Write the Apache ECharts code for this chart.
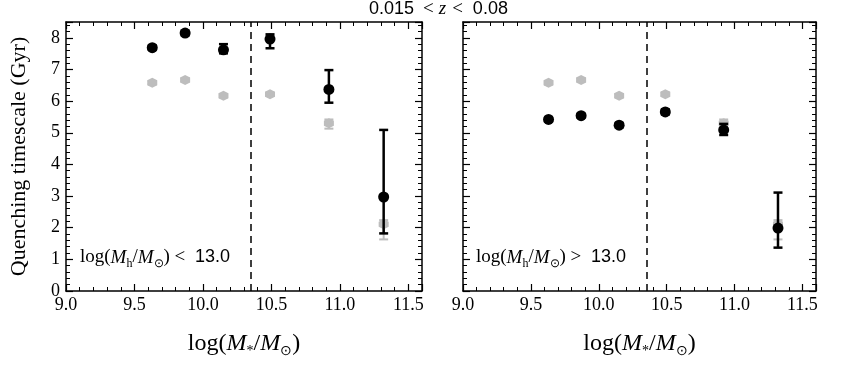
<!DOCTYPE html>
<html>
<head>
<meta charset="utf-8">
<script src="https://cdn.jsdelivr.net/npm/echarts@6/dist/echarts.min.js"></script>
<style>
  html, body { margin: 0; background: #fff; }
  #chart { width: 845px; height: 370px; }
</style>
</head>
<body>
<div id="chart"></div>
<script>
// stellar mass bins, log(M*/Msun)
const massBins = [9.63, 9.87, 10.15, 10.49, 10.92, 11.32]

// whole sample (grey), same in both panels
const allTau = [6.58, 6.67, 6.17, 6.22, 5.30, 2.11]
const allLo = [6.53, 6.62, 6.12, 6.17, 5.13, 1.63]
const allHi = [6.63, 6.72, 6.22, 6.27, 5.42, 2.24]

// log(Mh/Msun) < 13.0
const lowHaloTau = [7.69, 8.15, 7.62, 7.96, 6.37, 2.97]
const lowHaloLo = [7.62, 8.08, 7.51, 7.67, 5.95, 1.82]
const lowHaloHi = [7.76, 8.22, 7.80, 8.11, 6.98, 5.09]

// log(Mh/Msun) > 13.0
const highHaloTau = [5.42, 5.54, 5.24, 5.66, 5.09, 1.99]
const highHaloLo = [5.36, 5.48, 5.17, 5.58, 4.93, 1.37]
const highHaloHi = [5.48, 5.60, 5.31, 5.74, 5.28, 3.11]

const massCut = 10.35
const xTicks = { min: 9.0, max: 11.6, interval: 0.5 }
const yTicks = { min: 0, max: 8.5, interval: 1 }

const serif = 'Liberation Serif'
const sans = 'Liberation Sans'
const grey = '#bdbdbd'
const hexagon = 'path://M0,-10 L8.66,-5 L8.66,5 L0,10 L-8.66,5 L-8.66,-5 Z'

const chart = echarts.init(document.getElementById('chart'))

const axisLine = { show: true, onZero: false, lineStyle: { color: '#000', width: 1.5 } }
const axisTick = { show: true, inside: true, length: 7, lineStyle: { color: '#000', width: 1.2 } }
const minorTick = { show: true, splitNumber: 5, length: 4, lineStyle: { color: '#000', width: 1 } }
const tickRich = { t: { fontFamily: serif, fontSize: 18, color: '#000' } }

const mathRich = {
  r: { fontFamily: serif, fontSize: 24, color: '#000', lineHeight: 28 },
  i: { fontFamily: serif, fontStyle: 'italic', fontSize: 24, color: '#000', lineHeight: 28 },
  s: { fontFamily: serif, fontSize: 14, color: '#000', lineHeight: 14, verticalAlign: 'bottom' },
}
const massName = '{r|log(}{i|M}{s|*}{r|/}{i|M}{s|⊙}{r|)}'

function xAxes(gridIndex) {
  return [
    {
      type: 'value', gridIndex, position: 'bottom', ...xTicks,
      axisLine, axisTick, minorTick,
      splitLine: { show: false },
      axisLabel: {
        margin: 5, showMaxLabel: false, rich: tickRich,
        formatter: (v) => '{t|' + v.toFixed(1) + '}',
      },
      name: massName, nameLocation: 'middle', nameGap: 39,
      nameTextStyle: { rich: mathRich },
    },
    {
      type: 'value', gridIndex, position: 'top', ...xTicks,
      axisLine, axisTick, minorTick,
      splitLine: { show: false }, axisLabel: { show: false },
    },
  ]
}

function yAxes(gridIndex, withLabels) {
  const left = {
    type: 'value', gridIndex, position: 'left', ...yTicks,
    axisLine, axisTick, minorTick,
    splitLine: { show: false },
    axisLabel: {
      show: withLabels, margin: 6, showMaxLabel: false, rich: tickRich,
      formatter: (v) => '{t|' + v + '}',
    },
  }
  if (withLabels) {
    left.name = 'Quenching timescale (Gyr)'
    left.nameLocation = 'middle'
    left.nameGap = 36
    left.nameTextStyle = { fontFamily: serif, fontSize: 22, color: '#000' }
  }
  return [
    left,
    {
      type: 'value', gridIndex, position: 'right', ...yTicks,
      axisLine, axisTick, minorTick,
      splitLine: { show: false }, axisLabel: { show: false },
    },
  ]
}

function errorSeries(axisIndex, lo, hi, color, width, z) {
  return {
    type: 'custom',
    xAxisIndex: axisIndex, yAxisIndex: axisIndex,
    data: massBins.map((m, i) => [m, lo[i], hi[i]]),
    encode: { x: 0, y: [1, 2] },
    z, silent: true,
    renderItem(params, api) {
      const top = api.coord([api.value(0), api.value(2)])
      const bot = api.coord([api.value(0), api.value(1)])
      const cap = 4.5
      const style = { stroke: color, lineWidth: width }
      return {
        type: 'group',
        children: [
          { type: 'line', shape: { x1: top[0], y1: top[1], x2: bot[0], y2: bot[1] }, style },
          { type: 'line', shape: { x1: top[0] - cap, y1: top[1], x2: top[0] + cap, y2: top[1] }, style },
          { type: 'line', shape: { x1: bot[0] - cap, y1: bot[1], x2: bot[0] + cap, y2: bot[1] }, style },
        ],
      }
    },
  }
}

function pointSeries(axisIndex, values, color, symbol, size, z, withCut) {
  const s = {
    type: 'scatter',
    xAxisIndex: axisIndex, yAxisIndex: axisIndex,
    data: massBins.map((m, i) => [m, values[i]]),
    symbol, symbolSize: size,
    itemStyle: { color, opacity: 1 },
    z, silent: true,
  }
  if (withCut) {
    s.markLine = {
      silent: true, symbol: 'none',
      label: { show: false },
      lineStyle: { color: '#000', width: 1.5, type: [7, 5] },
      data: [{ xAxis: massCut }],
    }
  }
  return s
}

// panel axis indices: left panel uses 0 (bottom/left) + 1 (top/right), right panel 2 + 3
const panels = [
  { axis: 0, tau: lowHaloTau, lo: lowHaloLo, hi: lowHaloHi },
  { axis: 2, tau: highHaloTau, lo: highHaloLo, hi: highHaloHi },
]

const series = []
panels.forEach((p) => {
  series.push(errorSeries(p.axis, allLo, allHi, grey, 2, 2))
  series.push(pointSeries(p.axis, allTau, grey, hexagon, 10, 3, true))
  series.push(errorSeries(p.axis, p.lo, p.hi, '#000', 2.5, 4))
  series.push(pointSeries(p.axis, p.tau, '#000', 'circle', 11, 5, false))
})

const annRich = {
  r: { fontFamily: serif, fontSize: 19, color: '#000', lineHeight: 24 },
  i: { fontFamily: serif, fontStyle: 'italic', fontSize: 19, color: '#000', lineHeight: 24 },
  s: { fontFamily: serif, fontSize: 12, color: '#000', lineHeight: 12, verticalAlign: 'bottom' },
  n: { fontFamily: sans, fontSize: 18, color: '#000', lineHeight: 24 },
}

chart.setOption({
  animation: false,
  title: {
    text: '{n|0.015}{m1|<}{z|z}{m2|<}{n|0.08}',
    left: 369, top: 0, padding: 0,
    textStyle: {
      fontWeight: 'normal',
      rich: {
        n: { fontFamily: sans, fontSize: 18, color: '#000', lineHeight: 18 },
        m1: { fontFamily: serif, fontSize: 19, color: '#000', lineHeight: 18, padding: [0, 5, 0, 9] },
        m2: { fontFamily: serif, fontSize: 19, color: '#000', lineHeight: 18, padding: [0, 10, 0, 6] },
        z: { fontFamily: serif, fontStyle: 'italic', fontSize: 19, color: '#000', lineHeight: 18 },
      },
    },
  },
  grid: [
    { left: 66, top: 22, width: 356, height: 269 },
    { left: 463, top: 22, width: 353, height: 269 },
  ],
  xAxis: [...xAxes(0), ...xAxes(1)],
  yAxis: [...yAxes(0, true), ...yAxes(1, false)],
  graphic: [
    {
      type: 'text', left: 80, top: 248,
      style: { text: '{r|log(}{i|M}{s|h}{r|/}{i|M}{s|⊙}{r|) < }{n| 13.0}', rich: annRich },
    },
    {
      type: 'text', left: 476, top: 248,
      style: { text: '{r|log(}{i|M}{s|h}{r|/}{i|M}{s|⊙}{r|) > }{n| 13.0}', rich: annRich },
    },
  ],
  series,
})
</script>
</body>
</html>
